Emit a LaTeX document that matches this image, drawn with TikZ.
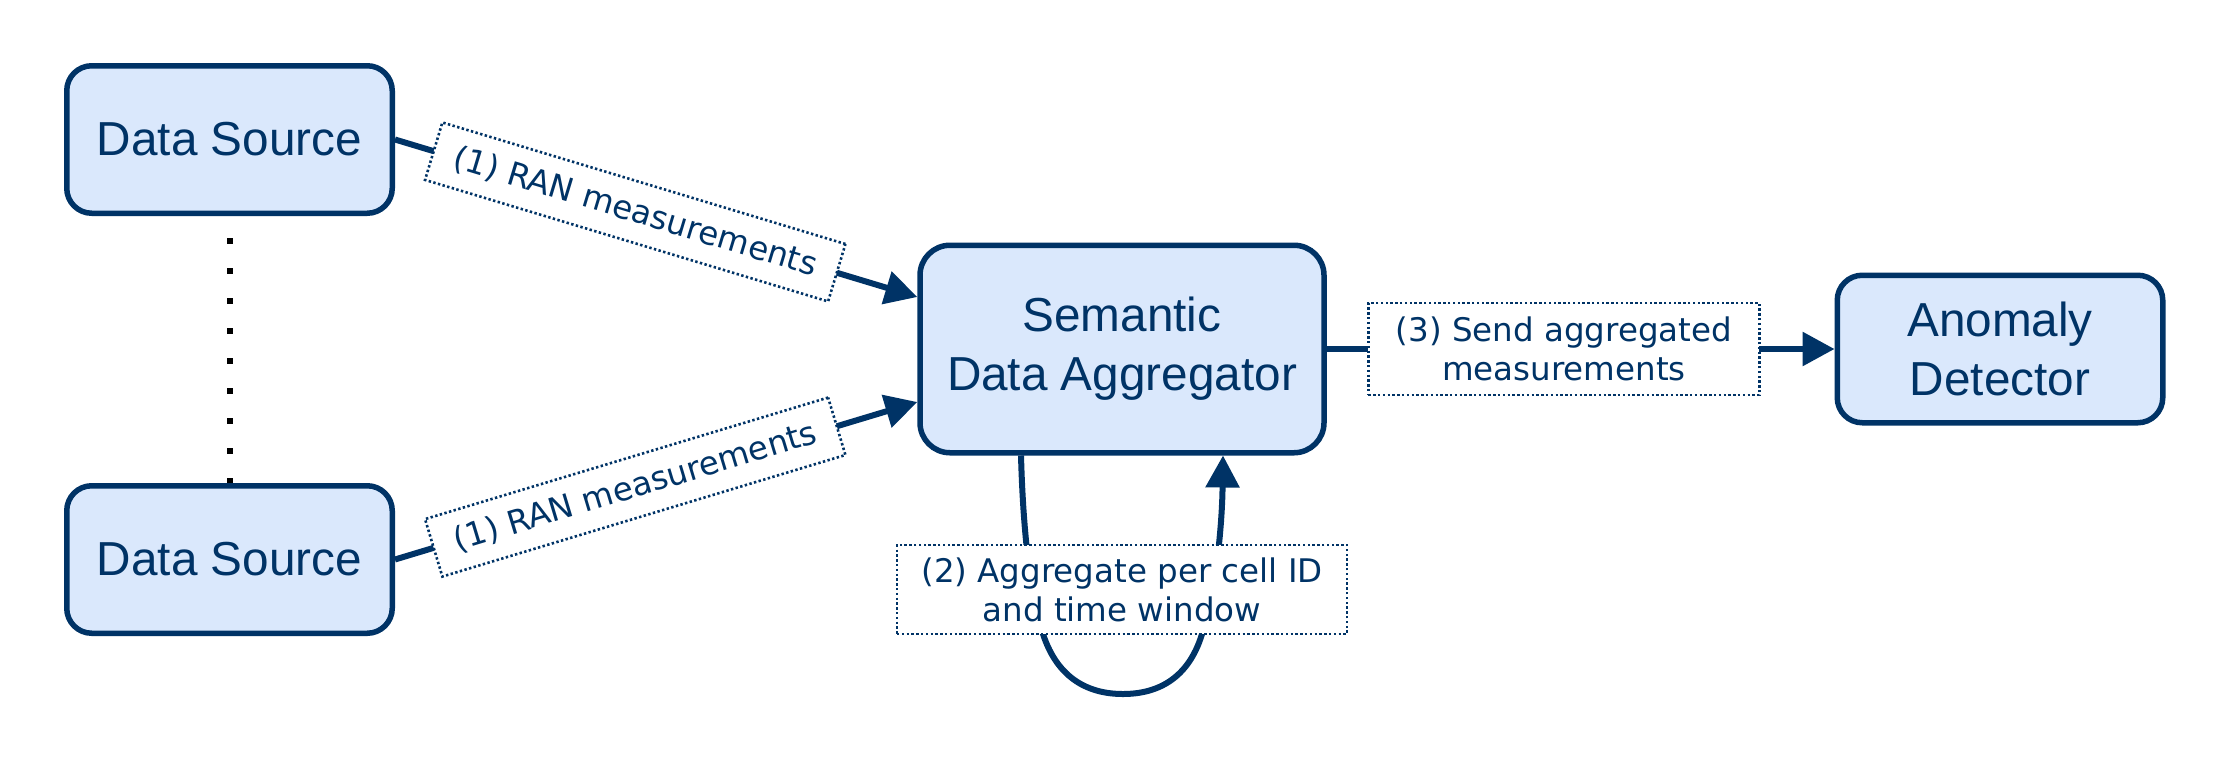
\documentclass[tikz,border=0pt]{standalone}
\usepackage{fontspec}
\setmainfont{Liberation Sans}
\newfontfamily\lblfont{DejaVu Sans}
\usetikzlibrary{arrows.meta,calc}
\definecolor{navy}{HTML}{003366}
\definecolor{boxfill}{HTML}{DAE8FC}
\begin{document}
\begin{tikzpicture}[x=0.5pt,y=-0.5pt,
  blk/.style={draw=navy, fill=boxfill, line width=2.75pt, rounded corners=12.5pt,
    minimum width=162.75pt, minimum height=73.75pt, text=navy, align=center,
    font=\fontsize{23.85pt}{29.5pt}\selectfont, inner sep=0pt},
  lbl/.style={draw=navy, fill=white, line width=1.3pt, dash pattern=on 1.2pt off 1.2pt,
    text=navy, align=center, font=\lblfont\fontsize{16.25pt}{19.5pt}\selectfont, inner sep=0pt},
  edge/.style={draw=navy, line width=3pt, -{Triangle[length=16pt,width=16.5pt]}},
  dotline/.style={draw=black, line width=3pt, dash pattern=on 3pt off 12pt, dash phase=4pt},
]
\path[fill=white] (0,0) rectangle (2226,756);

\node[blk] (ds1) at (229.5,139.5) {Data Source};
\node[blk] (ds2) at (229.5,559.5) {Data Source};
\node[blk, minimum width=202pt, minimum height=103.75pt, rounded corners=15pt] (sda) at (1122,349) {Semantic\\Data Aggregator};
\node[blk] (ad) at (2000,349) {Anomaly\\Detector};

\draw[dotline] (ds1.south) -- (ds2.north);

\draw[edge] (ds1.east) -- node[lbl, sloped, pos=0.46, minimum width=210.5pt, minimum height=30pt] (l1a) {(1) RAN measurements} ($(sda.west)+(0,-52)$);
\draw[edge] (ds2.east) -- node[lbl, sloped, pos=0.46, minimum width=210.5pt, minimum height=30pt] (l1b) {(1) RAN measurements} ($(sda.west)+(0,53)$);
\draw[edge] (sda.east) -- node[lbl, pos=0.467, minimum width=195.5pt, minimum height=46pt] (l3) {(3) Send aggregated\\measurements} (ad.west);

\coordinate (lpA) at ($(sda.south)+(-101,0)$);
\coordinate (lpB) at ($(sda.south)+(101,0)$);
\draw[edge] (lpA) .. controls (1023,530) and (1030,594) .. (1043,634)
  .. controls (1058,680) and (1090,694) .. (1123,694)
  .. controls (1156,694) and (1188,680) .. (1202,634)
  .. controls (1215,594) and (1222,530) .. (lpB);
\node[lbl, minimum width=225pt, minimum height=44.5pt] (l2) at (1122,589.5) {(2) Aggregate per cell ID\\and time window};
\end{tikzpicture}
\end{document}
